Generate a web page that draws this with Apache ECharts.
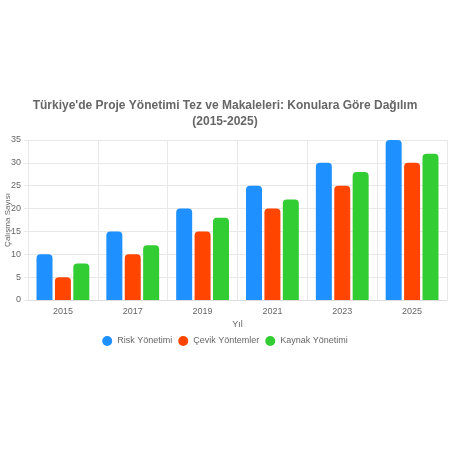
<!DOCTYPE html>
<html>
<head>
<meta charset="utf-8">
<script src="https://cdn.jsdelivr.net/npm/echarts@6/dist/echarts.min.js"></script>
<style>
  html, body { margin: 0; padding: 0; background: #fff; }
  #main { width: 450px; height: 450px; }
</style>
</head>
<body>
<div id="main"></div>
<script>
// yillar ve konu bazinda calisma sayilari
var years = ['2015', '2017', '2019', '2021', '2023', '2025'];
var riskYonetimi = [10, 15, 20, 25, 30, 35];
var cevikYontemler = [5, 10, 15, 20, 25, 30];
var kaynakYonetimi = [8, 12, 18, 22, 28, 32];
var yTicks = [0, 5, 10, 15, 20, 25, 30, 35];

var myChart = echarts.init(document.getElementById('main'));
var font = 'Liberation Sans, Arial, sans-serif';
var gridColor = '#e8e8e8';

function barSeries(name, data, color) {
    return {
        name: name,
        type: 'bar',
        data: data,
        barWidth: 16,
        barGap: '15%',
        itemStyle: {
            color: color,
            borderRadius: [4, 4, 0, 0]
        }
    };
}

myChart.setOption({
    backgroundColor: '#fff',
    textStyle: { fontFamily: font },
    title: {
        text: "Türkiye'de Proje Yönetimi Tez ve Makaleleri: Konulara Göre Dağılım\n(2015-2025)",
        left: 'center',
        top: 93,
        textStyle: {
            fontFamily: font,
            fontSize: 12,
            fontWeight: 'bold',
            color: '#666',
            lineHeight: 16
        }
    },
    legend: {
        data: ['Risk Yönetimi', 'Çevik Yöntemler', 'Kaynak Yönetimi'],
        top: 331,
        left: 'center',
        icon: 'circle',
        itemWidth: 10,
        itemHeight: 10,
        itemGap: 6,
        textStyle: { fontFamily: font, fontSize: 9, color: '#666' }
    },
    grid: {
        left: 28,
        right: 3,
        top: 140,
        bottom: 150,
        outerBoundsMode: 'none',
        containLabel: false
    },
    xAxis: {
        type: 'category',
        data: years,
        name: 'Yıl',
        nameLocation: 'middle',
        nameGap: 20,
        nameTextStyle: { fontFamily: font, fontSize: 9, color: '#666' },
        axisLine: { lineStyle: { color: '#ddd' } },
        axisTick: { length: 5, lineStyle: { color: gridColor } },
        axisLabel: { fontFamily: font, fontSize: 9, color: '#666', margin: 7 },
        splitLine: { show: true, lineStyle: { color: gridColor } }
    },
    yAxis: {
        type: 'value',
        min: 0,
        max: 35,
        interval: 5,
        name: 'Çalışma Sayısı',
        nameLocation: 'middle',
        nameGap: 16,
        nameMoveOverlap: false,
        nameTextStyle: { fontFamily: font, fontSize: 8, color: '#666' },
        axisLine: { show: true, lineStyle: { color: gridColor } },
        axisTick: { show: true, length: 4, lineStyle: { color: gridColor } },
        axisLabel: {
            fontFamily: font, fontSize: 9, color: '#666', margin: 7,
            formatter: function (v) { return yTicks.indexOf(v) >= 0 ? v : ''; }
        },
        splitLine: { lineStyle: { color: gridColor } }
    },
    series: [
        barSeries('Risk Yönetimi', riskYonetimi, '#1E90FF'),
        barSeries('Çevik Yöntemler', cevikYontemler, '#FF4500'),
        barSeries('Kaynak Yönetimi', kaynakYonetimi, '#32CD32')
    ]
});
</script>
</body>
</html>
